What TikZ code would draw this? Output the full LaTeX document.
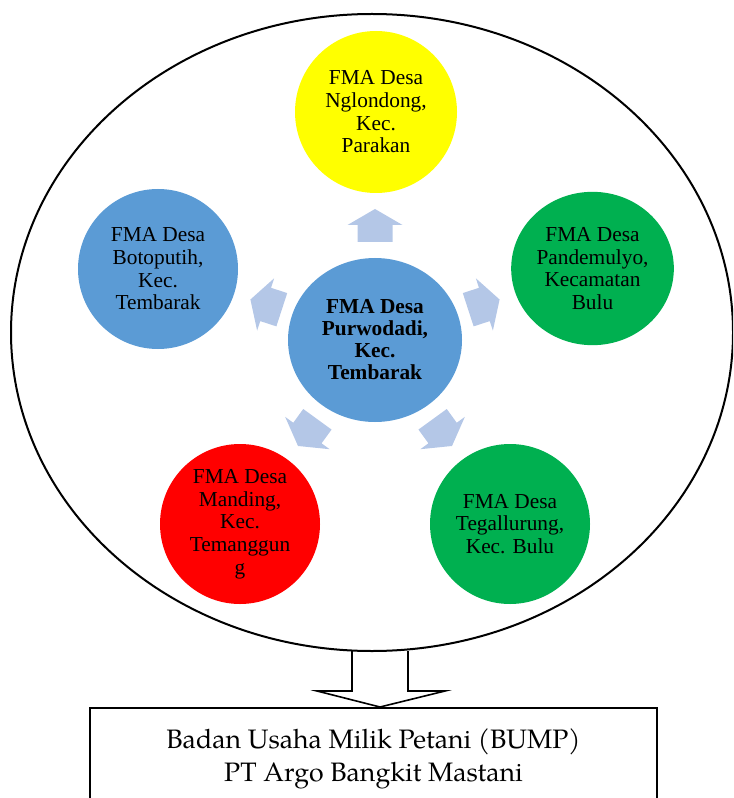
\documentclass[tikz,border=0pt]{standalone}
\usepackage{fontspec}
\setmainfont{Liberation Serif}
\newfontfamily\palfont{texgyrepagella-regular.otf}
\usetikzlibrary{calc,shapes.geometric}
\definecolor{fmablue}{HTML}{5B9BD5}
\definecolor{fmagreen}{HTML}{00B050}
\definecolor{fmared}{HTML}{FF0000}
\definecolor{fmayellow}{HTML}{FFFF00}
\definecolor{spokecol}{HTML}{B4C7E7}
\begin{document}
\begin{tikzpicture}[x=0.75pt,y=0.75pt,
  fma/.style={ellipse, inner sep=0pt, align=center, text=black,
    font=\fontsize{16}{17}\selectfont},
  spoke/.style={fill=spokecol, draw=none},
  outline/.style={line width=1.5pt, draw=black}]
\useasboundingbox (0,0) rectangle (733,-798);
\clip (0,0) rectangle (733,-798);

% radial group of forums
\node[fma, fill=fmablue, minimum width=130.5pt, minimum height=123pt,
      font=\bfseries\fontsize{16}{16.5}\selectfont] (ctr) at (375,-340)
      {FMA Desa\\Purwodadi,\\Kec.\\Tembarak};
\node[fma, fill=fmayellow, minimum width=121.5pt, minimum height=121.5pt] (ng) at (376,-112)
      {FMA Desa\\Nglondong,\\Kec.\\Parakan};
\node[fma, fill=fmablue, minimum width=120pt, minimum height=120pt] (bt) at (158,-269)
      {FMA Desa\\Botoputih,\\Kec.\\Tembarak};
\node[fma, fill=fmagreen, minimum width=122pt, minimum height=115pt] (pd) at (592.5,-268.5)
      {FMA Desa\\Pandemulyo,\\Kecamatan\\Bulu};
\node[fma, fill=fmared, minimum width=120pt, minimum height=120pt] (md) at (240,-524)
      {FMA Desa\\Manding,\\Kec.\\Temanggun\\g};
\node[fma, fill=fmagreen, minimum width=120pt, minimum height=120pt] (tg) at (510,-524)
      {FMA Desa\\Tegallurung,\\Kec. Bulu};

% block arrows pointing outward from the central forum
\foreach \a in {90,18,-54,-126,162}{
  \begin{scope}[shift={(ctr.center)}, rotate=\a]
    \fill[spoke] (98,-17.5) -- (115,-17.5) -- (115,-27.5) -- (131,0)
      -- (115,27.5) -- (115,17.5) -- (98,17.5) -- cycle;
  \end{scope}
}

% the enterprise box
\node[outline, rectangle, minimum width=425.25pt, minimum height=75.75pt,
      inner sep=0pt, anchor=north, align=center,
      font=\palfont\fontsize{20}{24.75}\selectfont] (bump) at (373.5,-707)
      {Badan Usaha Milik Petani (BUMP)\\PT Argo Bangkit Mastani};

% hollow down arrow from the ellipse to the box
\coordinate (dn) at (380,-651);
\draw[line width=1.2pt, fill=white, line join=miter]
  ($(dn)+(-28,0)$) -- ($(dn)+(-28,-40)$) -- ($(dn)+(-63,-40)$)
  -- (dn |- bump.north) -- ($(dn)+(65,-40)$) -- ($(dn)+(28,-40)$)
  -- ($(dn)+(28,0)$);

% enclosing ellipse, drawn last so its line crosses the arrow top
\draw[outline] (372,-332.5) ellipse [x radius=361, y radius=318.5];
\end{tikzpicture}
\end{document}
